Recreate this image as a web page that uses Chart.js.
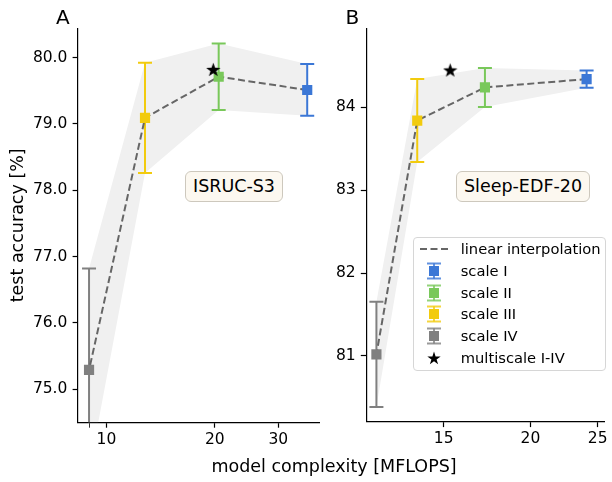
<!DOCTYPE html>
<html>
<head>
<meta charset="utf-8">
<script src="https://cdn.jsdelivr.net/npm/chart.js@4.4.1/dist/chart.umd.min.js"></script>
<style>
  body { margin: 0; background: #fff; font-family: 'DejaVu Sans', sans-serif; color: #000; }
  #wrap { position: relative; width: 612px; height: 482px; overflow: hidden; }
  canvas { position: absolute; top: 0; }
  #chartA { left: 0; }
  #chartB { left: 330px; }
  .panel { position: absolute; top: 5px; font-size: 20px; line-height: normal; }
  .tag { position: absolute; box-sizing: border-box; height: 31px; line-height: 29px; text-align: center;
         font-size: 17.5px; background: #fcf8f0; border: 1px solid #cdc8bd; border-radius: 6px; }
  #xlabel { position: absolute; top: 455.5px; left: 334px; transform: translateX(-50%); white-space: nowrap;
            font-size: 17.5px; line-height: 21px; }
  #legend { position: absolute; left: 412.7px; top: 236.7px; width: 193.3px; height: 134.3px; box-sizing: border-box;
            border: 1px solid #d6d6d6; border-radius: 4px; background: rgba(255,255,255,0.8); padding-top: 0.5px; }
  .row { position: relative; height: 21.7px; font-size: 14.7px; line-height: 21.7px; }
  .row svg { position: absolute; left: 5.6px; top: 0; }
  .row span { position: absolute; left: 47px; top: 0; white-space: nowrap; }
</style>
</head>
<body>
<div id="wrap">
  <canvas id="chartA" width="330" height="482"></canvas>
  <canvas id="chartB" width="282" height="482"></canvas>
  <div class="panel" style="left:56px">A</div>
  <div class="panel" style="left:345.5px">B</div>
  <div class="tag" style="left:185px; top:170.5px; width:98px">ISRUC-S3</div>
  <div class="tag" style="left:456px; top:170.5px; width:134px">Sleep-EDF-20</div>
  <div id="xlabel">model complexity [MFLOPS]</div>
  <div id="legend"></div>
</div>
<script>
const scaleNames = ['scale I', 'scale II', 'scale III', 'scale IV'];
const scaleColors = ['#3b77d6', '#79c85a', '#f2cb0e', '#808080'];

// ISRUC-S3
const isrucFlops = [36.1, 20.5, 12.8, 8.95];
const isrucAcc = [79.51, 79.71, 79.09, 75.29];
const isrucErr = [0.39, 0.50, 0.83, 1.53];
const isrucMultiFlops = [19.8];
const isrucMultiAcc = [79.82];
const isrucXTicks = [9, 10, 20, 30];
const isrucMinorTicks = [9];
const isrucYTicks = [75, 76, 77, 78, 79, 80];

// Sleep-EDF-20
const edfFlops = [24.1, 17.2, 13.74, 12.0];
const edfAcc = [84.34, 84.24, 83.84, 81.02];
const edfErr = [0.105, 0.235, 0.50, 0.635];
const edfMultiFlops = [15.33];
const edfMultiAcc = [84.45];
const edfXTicks = [15, 20, 25];
const edfMinorTicks = [];
const edfYTicks = [81, 82, 83, 84];

const FONT = 'DejaVu Sans';

function starImage(size) {
    const c = document.createElement('canvas');
    c.width = c.height = size;
    const g = c.getContext('2d');
    g.fillStyle = '#000';
    g.beginPath();
    for (let k = 0; k < 10; k++) {
        const r = k % 2 ? size * 0.2 : size / 2;
        const a = -Math.PI / 2 + k * Math.PI / 5;
        g.lineTo(size / 2 + r * Math.cos(a), size / 2 + r * Math.sin(a) + size * 0.05);
    }
    g.closePath();
    g.fill();
    return c;
}
const star = starImage(15);

// error bars, drawn just before the dashed curve
const errorBars = {
    id: 'errorBars',
    beforeDatasetDraw(chart, args, opts) {
        if (!chart.data.datasets[args.index].isCurve) return;
        const ctx = chart.ctx, xs = chart.scales.x, ys = chart.scales.y, a = chart.chartArea;
        ctx.save();
        ctx.beginPath();
        ctx.rect(a.left, a.top, a.right - a.left, a.bottom - a.top);
        ctx.clip();
        ctx.lineWidth = 2;
        opts.x.forEach((v, i) => {
            const px = xs.getPixelForValue(v);
            const top = ys.getPixelForValue(opts.y[i] + opts.err[i]);
            const bot = ys.getPixelForValue(opts.y[i] - opts.err[i]);
            ctx.strokeStyle = scaleColors[i];
            ctx.beginPath();
            ctx.moveTo(px, top); ctx.lineTo(px, bot);
            ctx.moveTo(px - 7, top); ctx.lineTo(px + 7, top);
            ctx.moveTo(px - 7, bot); ctx.lineTo(px + 7, bot);
            ctx.stroke();
        });
        ctx.restore();
    }
};

function makePanel(id, d) {
    const pts = ys => d.flops.map((x, i) => ({ x: x, y: ys[i] }));
    const datasets = [
        { data: pts(d.acc.map((v, i) => v + d.err[i])), fill: '+1', backgroundColor: '#f0f0f0',
          borderWidth: 0, pointRadius: 0, order: 5 },
        { data: pts(d.acc.map((v, i) => v - d.err[i])), fill: false, borderWidth: 0, pointRadius: 0, order: 4 },
        { data: pts(d.acc), isCurve: true, borderColor: '#666666', borderDash: [7, 3.5], borderWidth: 2,
          pointRadius: 0, fill: false, order: 3 }
    ];
    scaleNames.forEach((n, i) => {
        datasets.push({ label: n, data: [{ x: d.flops[i], y: d.acc[i] }], showLine: false, pointStyle: 'rect',
            pointRadius: 7.2, backgroundColor: scaleColors[i], borderWidth: 0, order: 1 });
    });
    datasets.push({ label: 'multiscale I-IV', data: d.multiX.map((x, i) => ({ x: x, y: d.multiY[i] })),
        showLine: false, pointStyle: star, order: 0 });

    const tickFont = { family: FONT, size: 15.5 };
    return new Chart(document.getElementById(id), {
        type: 'line',
        data: { datasets: datasets },
        plugins: [errorBars],
        options: {
            responsive: false,
            animation: false,
            layout: { padding: d.pad },
            plugins: {
                legend: { display: false },
                tooltip: { enabled: false },
                errorBars: { x: d.flops, y: d.acc, err: d.err }
            },
            scales: {
                x: {
                    type: 'logarithmic', min: d.xMin, max: d.xMax,
                    afterBuildTicks: s => { s.ticks = d.xTicks.map(v => ({ value: v })); },
                    afterFit: s => { s.height = d.xH; },
                    ticks: { autoSkip: false, maxRotation: 0, padding: 2.6, color: '#000', font: tickFont,
                             callback: v => d.minor.includes(v) ? '' : String(v) },
                    grid: { drawOnChartArea: false, tickLength: 5.4, tickColor: '#000',
                            tickWidth: c => (c.tick && d.minor.includes(c.tick.value)) ? 0.8 : 1.2 },
                    border: { color: '#000', width: 1.2 }
                },
                y: {
                    type: 'linear', min: d.yMin, max: d.yMax,
                    afterBuildTicks: s => { s.ticks = d.yTicks.map(v => ({ value: v })); },
                    afterFit: s => { s.width = d.yW; },
                    ticks: { padding: 5.2, color: '#000', font: tickFont,
                             callback: v => v.toFixed(d.yDec) },
                    grid: { drawOnChartArea: false, tickLength: 5.4, tickColor: '#000', tickWidth: 1.2 },
                    border: { color: '#000', width: 1.2 },
                    title: { display: !!d.yTitle, text: d.yTitle, color: '#000',
                             font: { family: FONT, size: 17.5 }, padding: { top: 7.5, bottom: 0 } }
                }
            }
        }
    });
}

makePanel('chartA', {
    flops: isrucFlops, acc: isrucAcc, err: isrucErr, multiX: isrucMultiFlops, multiY: isrucMultiAcc,
    xTicks: isrucXTicks, minor: isrucMinorTicks, yTicks: isrucYTicks, yDec: 1,
    xMin: 8.34, xMax: 39.0, yMin: 74.5, yMax: 80.44,
    pad: { left: 0, right: 10.7, top: 28.3, bottom: 0 }, yW: 78, xH: 59.7,
    yTitle: 'test accuracy [%]'
});

makePanel('chartB', {
    flops: edfFlops, acc: edfAcc, err: edfErr, multiX: edfMultiFlops, multiY: edfMultiAcc,
    xTicks: edfXTicks, minor: edfMinorTicks, yTicks: edfYTicks, yDec: 0,
    xMin: 11.6, xMax: 25.6, yMin: 80.207, yMax: 84.953,
    pad: { left: 0, right: 3.7, top: 28.3, bottom: 0 }, yW: 36.2, xH: 60.3,
    yTitle: ''
});

// legend
const legend = document.getElementById('legend');
function addRow(svg, text) {
    const row = document.createElement('div');
    row.className = 'row';
    row.innerHTML = svg + '<span>' + text + '</span>';
    legend.appendChild(row);
}
addRow('<svg width="30" height="22"><line x1="1" y1="11" x2="29" y2="11" stroke="#666" stroke-width="2" stroke-dasharray="7,3.5"/></svg>',
    'linear interpolation');
scaleNames.forEach((n, i) => {
    const c = scaleColors[i];
    addRow('<svg width="30" height="22">' +
        '<line x1="15" y1="3.5" x2="15" y2="18.5" stroke="' + c + '" stroke-width="2" opacity="0.8"/>' +
        '<line x1="8" y1="3.5" x2="22" y2="3.5" stroke="' + c + '" stroke-width="2" opacity="0.8"/>' +
        '<line x1="8" y1="18.5" x2="22" y2="18.5" stroke="' + c + '" stroke-width="2" opacity="0.8"/>' +
        '<rect x="10" y="6" width="10" height="10" fill="' + c + '"/></svg>', n);
});
addRow('<svg width="30" height="22"><polygon fill="#000" points="' +
    Array.from({ length: 10 }, (_, k) => {
        const r = k % 2 ? 2.7 : 7, a = -Math.PI / 2 + k * Math.PI / 5;
        return (15 + r * Math.cos(a)).toFixed(2) + ',' + (11.6 + r * Math.sin(a)).toFixed(2);
    }).join(' ') + '"/></svg>', 'multiscale I-IV');
</script>
</body>
</html>
